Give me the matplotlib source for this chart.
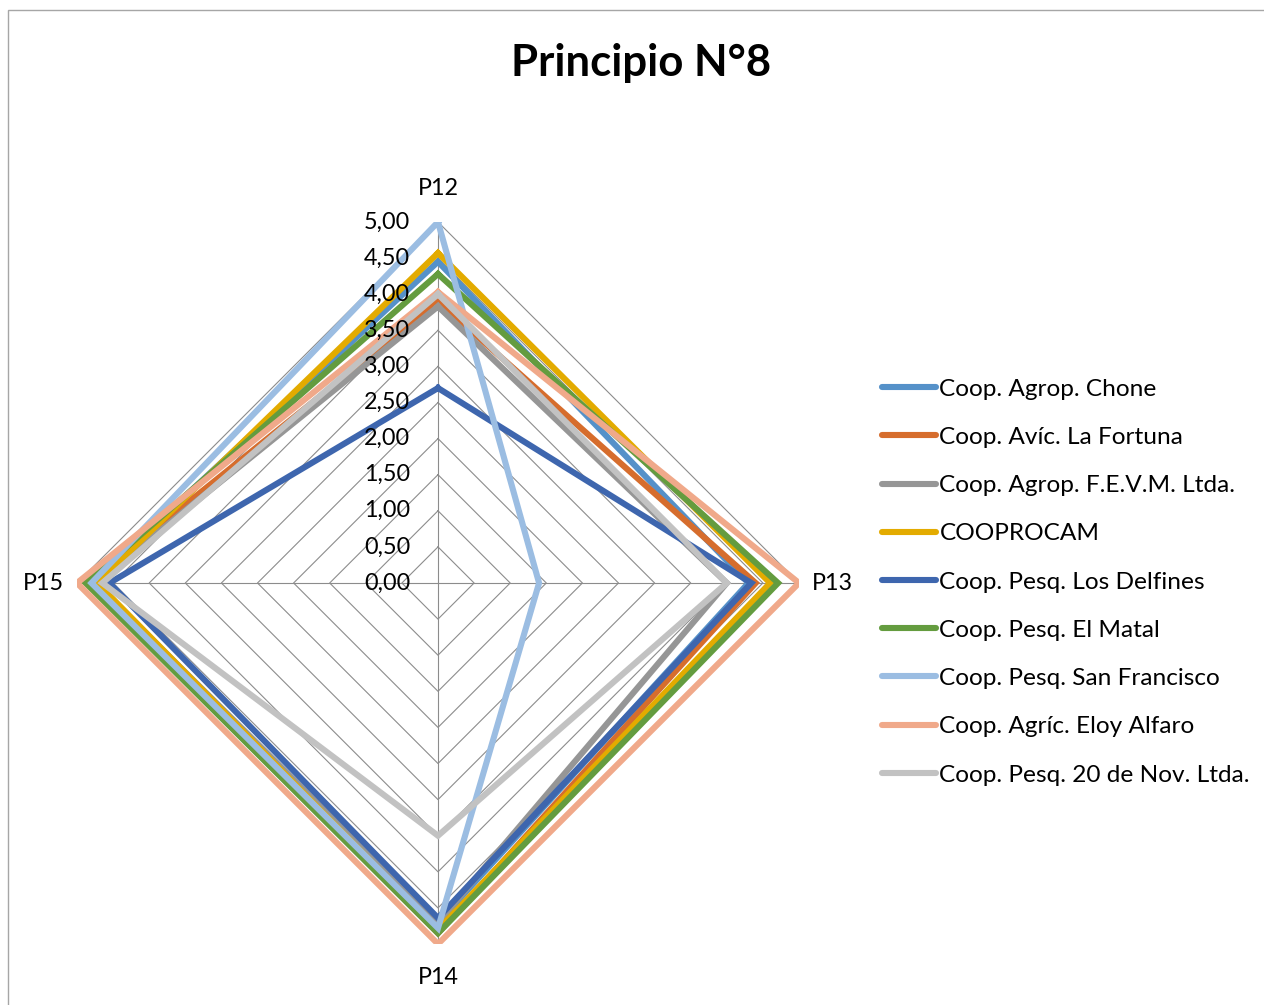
import numpy as np
import matplotlib
matplotlib.use('Agg')
import matplotlib.pyplot as plt
from matplotlib.lines import Line2D
from matplotlib.patches import Rectangle

plt.rcParams['font.family'] = ['Lato', 'DejaVu Sans']

# Axis categories (clockwise from top) and radial ticks
categories = ['P12', 'P13', 'P14', 'P15']
ticks = [0.0, 0.5, 1.0, 1.5, 2.0, 2.5, 3.0, 3.5, 4.0, 4.5, 5.0]
tick_labels = ['0,00', '0,50', '1,00', '1,50', '2,00', '2,50', '3,00', '3,50', '4,00', '4,50', '5,00']

# Series values (P12, P13, P14, P15)
chone = [4.45, 4.30, 4.70, 4.80]
la_fortuna = [3.90, 4.40, 4.85, 4.85]
fevm = [3.83, 4.00, 4.70, 4.75]
cooprocam = [4.57, 4.60, 4.80, 4.72]
los_delfines = [2.70, 4.34, 4.64, 4.55]
el_matal = [4.28, 4.71, 4.85, 4.88]
san_francisco = [5.00, 1.40, 4.78, 4.80]
eloy_alfaro = [4.03, 5.00, 5.00, 5.00]
veinte_nov = [4.00, 4.00, 3.50, 4.65]

series = [
    ('Coop. Agrop. Chone', chone, '#5591C9'),
    ('Coop. Avíc. La Fortuna', la_fortuna, '#D66D2D'),
    ('Coop. Agrop. F.E.V.M. Ltda.', fevm, '#969696'),
    ('COOPROCAM', cooprocam, '#E3AB00'),
    ('Coop. Pesq. Los Delfines', los_delfines, '#3E66AE'),
    ('Coop. Pesq. El Matal', el_matal, '#649C3F'),
    ('Coop. Pesq. San Francisco', san_francisco, '#9BBDE2'),
    ('Coop. Agríc. Eloy Alfaro', eloy_alfaro, '#F0A98A'),
    ('Coop. Pesq. 20 de Nov. Ltda.', veinte_nov, '#C2C2C2'),
]

W, H = 1264, 1005
fig = plt.figure(figsize=(W / 100, H / 100), dpi=100)

# chart area border (only top and left edges visible in the crop)
fig.patches.append(Rectangle((8 / W, -0.02), 1.2, (H - 10) / H + 0.02,
                             transform=fig.transFigure, fill=False,
                             edgecolor='#A6A6A6', linewidth=1.0))

cx, cy, R = 438, 583, 361
ax = fig.add_axes([(cx - R) / W, (H - cy - R) / H, 2 * R / W, 2 * R / H], projection='polar')
ax.set_theta_zero_location('N')
ax.set_theta_direction(-1)
ax.set_ylim(0, 5)
ax.set_xticks([])
ax.set_yticks([])
ax.grid(False)
ax.spines['polar'].set_visible(False)
ax.patch.set_visible(False)

angles = np.arange(len(categories)) * 2 * np.pi / len(categories)
closed = np.append(angles, angles[0])

# polygon grid rings and spokes
for t in ticks[1:]:
    ax.plot(closed, [t] * len(closed), color='#8C8C8C', linewidth=0.8, zorder=1)
for a in angles:
    ax.plot([a, a], [0, 5], color='#8C8C8C', linewidth=0.8, zorder=1)

# data lines
for name, vals, col in series:
    ax.plot(closed, vals + vals[:1], color=col, linewidth=4.4,
            solid_joinstyle='miter', zorder=3)

# radial tick labels left of the top spoke
for t, lab in zip(ticks, tick_labels):
    ax.annotate(lab, xy=(0, t), xytext=(-20, 0), textcoords='offset points',
                ha='right', va='center', fontsize=16.8, color='#000000', zorder=5)

# category labels
for a, lab in zip(angles, categories):
    ax.text(a, 5.46, lab, ha='center', va='center', fontsize=16.8, color='#000000')

fig.text(641 / W, 1 - 63 / H, 'Principio N°8', ha='center', va='center',
         fontsize=31.5, fontweight='bold', color='#000000')

handles = [Line2D([0], [0], color=col, linewidth=4.4, solid_capstyle='round')
           for _, _, col in series]
labels = [name for name, _, _ in series]
fig.legend(handles, labels, loc='center left', bbox_to_anchor=(882 / W, 1 - 582 / H),
           frameon=False, fontsize=17.6, handlelength=2.2, handletextpad=0.15,
           labelspacing=1.11, borderaxespad=0, borderpad=0)

fig.savefig('out.png', dpi=100)
